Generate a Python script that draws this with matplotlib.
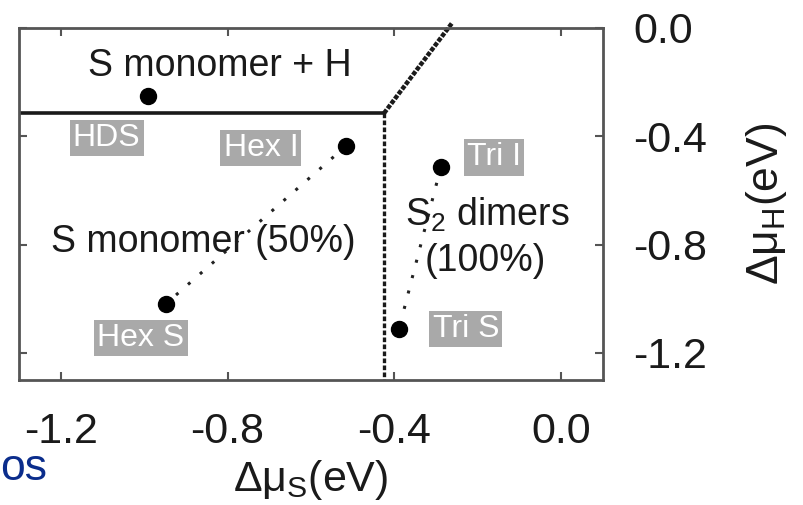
import matplotlib
matplotlib.use("Agg")
import matplotlib.pyplot as plt

plt.rcParams["font.family"] = ["Liberation Sans", "DejaVu Sans"]
plt.rcParams["mathtext.fontset"] = "custom"
plt.rcParams["mathtext.rm"] = "Liberation Sans"
plt.rcParams["mathtext.it"] = "Liberation Sans"

# Phase boundaries (eV)
x_min, x_max = -1.30, 0.10
y_min, y_max = -1.30, 0.0
boundary_h = -0.315     # S monomer + H / S monomer
boundary_v = -0.425     # S monomer / S2 dimers
diag_top_x = -0.271     # diagonal boundary meets top axis

# Structures: name, mu_S, mu_H
names = ["S monomer + H", "Hex I", "Hex S", "Tri I", "Tri S"]
mu_S = [-0.991, -0.517, -0.948, -0.289, -0.389]
mu_H = [-0.252, -0.437, -1.019, -0.515, -1.111]

# Grey tags
tags = ["HDS", "Hex I", "Hex S", "Tri I", "Tri S"]
tag_x = [-1.090, -0.720, -1.008, -0.162, -0.229]
tag_y = [-0.407, -0.444, -1.144, -0.478, -1.111]

# Region labels
regions = ["S monomer + H", "S monomer (50%)", "S$_2$ dimers", "(100%)"]
reg_x = [-0.819, -0.857, -0.178, -0.181]
reg_y = [-0.141, -0.789, -0.689, -0.859]

xticks = [-1.2, -0.8, -0.4, 0.0]
yticks = [-1.2, -0.8, -0.4, 0.0]

fig = plt.figure(figsize=(8.04, 5.05), dpi=100)
ax = fig.add_axes([0.0236, 0.2475, 0.7264, 0.6971])

# boundaries
ax.plot([x_min, boundary_v], [boundary_h, boundary_h], color="#1a1a1a", lw=2.6)
ax.plot([boundary_v, boundary_v], [boundary_h, y_min], color="#1a1a1a", lw=2.4,
        linestyle=(0, (1.4, 0.7)))
ax.plot([boundary_v, diag_top_x + 0.01], [boundary_h, 0.02], color="#1a1a1a", lw=3.2,
        linestyle=(0, (1.0, 0.35)), clip_on=False)

# dotted connections
ax.plot([mu_S[1], mu_S[2]], [mu_H[1], mu_H[2]], color="#222222", lw=2.2,
        linestyle=(0, (1, 4.2)))
ax.plot([mu_S[3], mu_S[4]], [mu_H[3], mu_H[4]], color="#222222", lw=2.2,
        linestyle=(0, (1, 4.2)))

ax.plot(mu_S, mu_H, "o", color="black", ms=11.5, zorder=5)

for t, x, y in zip(tags, tag_x, tag_y):
    ax.text(x, y, t, ha="center", va="center", fontsize=23, color="white",
            bbox=dict(boxstyle="square,pad=0.1", fc="#a9a9a9", ec="none"))

for t, x, y in zip(regions, reg_x, reg_y):
    ax.text(x, y, t, ha="center", va="center", fontsize=27, color="#1a1a1a")

ax.set_xlim(x_min, x_max)
ax.set_ylim(y_min, y_max)
ax.set_xticks(xticks)
ax.set_yticks(yticks)
ax.set_xticklabels([f"{v:.1f}" for v in xticks])
ax.set_yticklabels([f"{v:.1f}" for v in yticks])
ax.yaxis.tick_right()
ax.tick_params(direction="in", length=6, width=1.5, color="#555555",
               top=True, bottom=True, left=True, right=True,
               labelleft=False, labelright=True, labelsize=31, pad=22,
               labelcolor="#1a1a1a")
ax.tick_params(axis="x", pad=23)
for s in ax.spines.values():
    s.set_color("#555555")
    s.set_linewidth(2)

ax.set_xlabel(r"$\Delta\mu_{S}$(eV)", fontsize=31, labelpad=4, color="#1a1a1a")
ax.yaxis.set_label_position("right")
ax.set_ylabel(r"$\Delta\mu_{H}$(eV)", fontsize=32, labelpad=26, color="#1a1a1a")

# fragment of slide text in the lower left corner
fig.text(0.0, 0.05, "os", ha="left", va="baseline", fontsize=32,
         color="#0b2d8c")

fig.savefig("out.png", dpi=100)
